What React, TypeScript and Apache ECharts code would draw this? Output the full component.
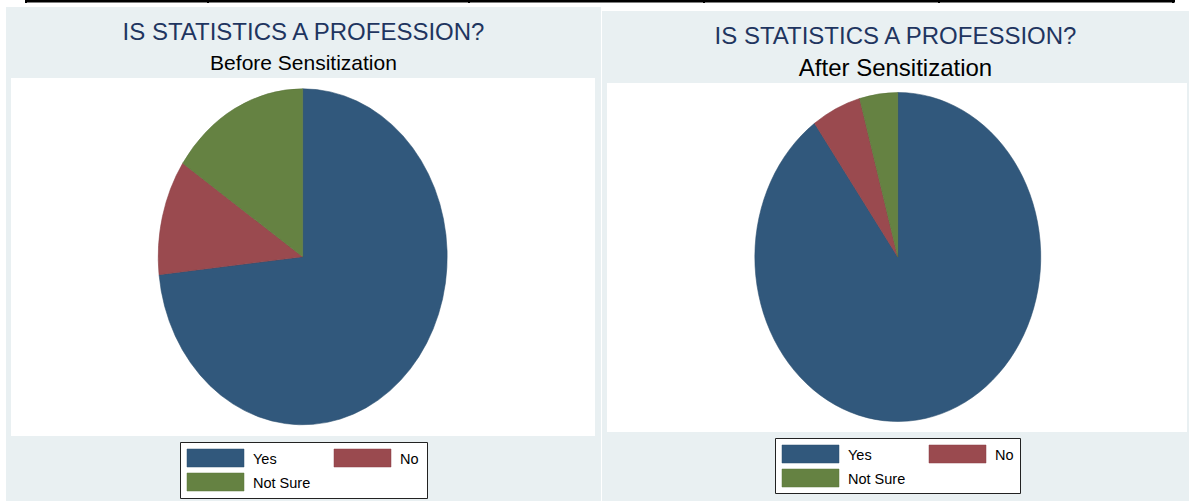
import React, { useEffect, useRef } from "react";
import * as echarts from "echarts";

// ---- data ----
const categories = ["Yes", "No", "Not Sure"];
const beforeValues = [73.3, 11.1, 15.6];
const afterValues = [90.1, 5.6, 4.3];
const chartTitles = ["IS STATISTICS A PROFESSION?", "IS STATISTICS A PROFESSION?"];
const panelSubtitles = ["Before Sensitization", "After Sensitization"];
const sliceColors = ["#31587C", "#9A4A4F", "#658242"];
const sliceEdges = ["#2A4D6E", "#8A3F44", "#5A7539"];

const FONT = "'Liberation Sans', Arial, Helvetica, sans-serif";
const BG = "#E9F0F2";
const TITLE_COLOR = "#1F3560";

type Panel = {
  bg: [number, number, number, number];
  plot: [number, number, number, number];
  cx: number;
  cy: number;
  rx: number;
  ry: number;
  titleY: number;
  subY: number;
  subSize: number;
  legend: [number, number, number, number];
  legendFont: number;
};

const panels: Panel[] = [
  {
    bg: [6, 7, 595, 494],
    plot: [11, 78, 584, 358],
    cx: 302.7,
    cy: 256.8,
    rx: 144.5,
    ry: 168,
    titleY: 31,
    subY: 62,
    subSize: 21,
    legend: [180, 442, 247, 56],
    legendFont: 14.5,
  },
  {
    bg: [602, 11, 587, 490],
    plot: [607, 83, 580, 349],
    cx: 897.8,
    cy: 257,
    rx: 143,
    ry: 164.5,
    titleY: 35,
    subY: 67,
    subSize: 24,
    legend: [775, 438, 245, 55],
    legendFont: 14.5,
  },
];

function makePieSeries(name: string, values: number[], p: Panel) {
  const total = values.reduce((a, b) => a + b, 0);
  let acc = 0;
  const data = values.map((v, i) => {
    const item = { name: categories[i], value: [v, acc] };
    acc += v;
    return item;
  });
  return {
    type: "custom",
    name,
    coordinateSystem: "none",
    silent: true,
    data,
    renderItem: (params: any, api: any) => {
      const v = api.value(0) as number;
      const start = api.value(1) as number;
      const a0 = -Math.PI / 2 + (start / total) * 2 * Math.PI;
      const a1 = -Math.PI / 2 + ((start + v) / total) * 2 * Math.PI;
      return {
        type: "sector",
        x: p.cx,
        y: p.cy,
        scaleX: p.rx / p.ry,
        shape: { cx: 0, cy: 0, r: p.ry, r0: 0, startAngle: a0, endAngle: a1, clockwise: true },
        style: {
          fill: sliceColors[params.dataIndex],
          stroke: sliceEdges[params.dataIndex],
          lineWidth: 0.6,
        },
      };
    },
  };
}

function legendGraphics(p: Panel) {
  const [lx, ly, lw, lh] = p.legend;
  const els: any[] = [
    {
      type: "rect",
      shape: { x: lx + 0.5, y: ly + 0.5, width: lw, height: lh },
      style: { fill: "#FFFFFF", stroke: "#222222", lineWidth: 1 },
    },
  ];
  const pos = [
    [lx + 7, ly + 7],
    [lx + 154, ly + 7],
    [lx + 7, ly + 31],
  ];
  categories.forEach((c, i) => {
    const [kx, ky] = pos[i];
    els.push({
      type: "rect",
      shape: { x: kx, y: ky, width: 57, height: 18 },
      style: { fill: sliceColors[i], stroke: sliceEdges[i], lineWidth: 0.5 },
    });
    els.push({
      type: "text",
      style: {
        text: c,
        x: kx + 66,
        y: ky + 9.5,
        textVerticalAlign: "middle",
        textAlign: "left",
        fill: "#000000",
        font: `${p.legendFont}px ${FONT}`,
      },
    });
  });
  return els;
}

function buildOption() {
  const graphics: any[] = [];
  // top table border strip
  graphics.push({
    type: "rect",
    shape: { x: 25, y: 0, width: 1150, height: 2.5 },
    style: { fill: "#000000" },
  });
  [25, 207, 468, 703, 938, 1172].forEach((x) => {
    graphics.push({
      type: "rect",
      shape: { x, y: 0, width: 2, height: 3 },
      style: { fill: "#000000" },
    });
  });
  panels.forEach((p, i) => {
    graphics.push({
      type: "rect",
      z: -10,
      shape: { x: p.bg[0], y: p.bg[1], width: p.bg[2], height: p.bg[3] },
      style: { fill: BG },
    });
    graphics.push({
      type: "rect",
      z: -9,
      shape: { x: p.plot[0], y: p.plot[1], width: p.plot[2], height: p.plot[3] },
      style: { fill: "#FFFFFF" },
    });
    const centerX = p.bg[0] + p.bg[2] / 2;
    graphics.push({
      type: "text",
      style: {
        text: chartTitles[i],
        x: centerX,
        y: p.titleY,
        textAlign: "center",
        textVerticalAlign: "middle",
        fill: TITLE_COLOR,
        font: `24px ${FONT}`,
      },
    });
    graphics.push({
      type: "text",
      style: {
        text: panelSubtitles[i],
        x: centerX,
        y: p.subY,
        textAlign: "center",
        textVerticalAlign: "middle",
        fill: "#000000",
        font: `${p.subSize}px ${FONT}`,
      },
    });
    graphics.push(...legendGraphics(p));
  });

  return {
    animation: false,
    backgroundColor: "#FFFFFF",
    graphic: { elements: graphics.map((g) => ({ ...g, silent: true })) },
    series: [
      makePieSeries(panelSubtitles[0], beforeValues, panels[0]),
      makePieSeries(panelSubtitles[1], afterValues, panels[1]),
    ],
  };
}

export default function App() {
  const ref = useRef<HTMLDivElement>(null);
  useEffect(() => {
    if (!ref.current) return;
    const chart = echarts.init(ref.current, undefined, { renderer: "svg" });
    chart.setOption(buildOption() as any);
    return () => chart.dispose();
  }, []);
  return (
    <div
      ref={ref}
      style={{ position: "fixed", left: 0, top: 0, width: 1189, height: 501, background: "#FFFFFF" }}
    />
  );
}
